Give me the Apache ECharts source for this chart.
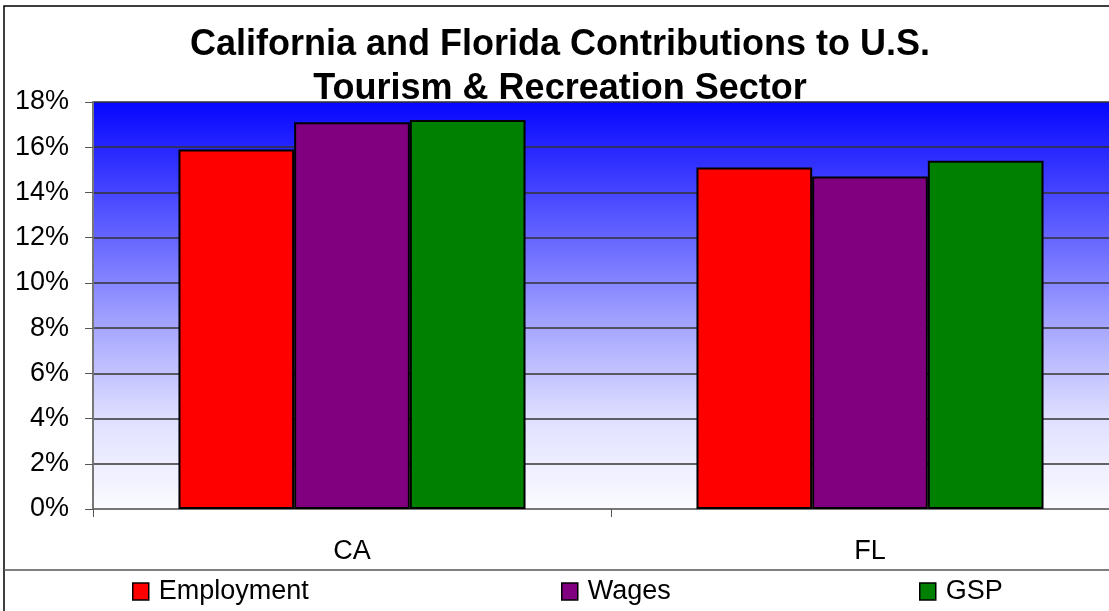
<!DOCTYPE html>
<html>
<head>
<meta charset="utf-8">
<script src="https://cdn.jsdelivr.net/npm/echarts@6/dist/echarts.min.js"></script>
<style>
  html, body { margin: 0; padding: 0; background: #fff; overflow: hidden; }
  #main { width: 1129px; height: 611px; }
</style>
</head>
<body>
<div id="main"></div>
<script>
const states = ['CA', 'FL'];
const employment = [15.9, 15.1];
const wages = [17.1, 14.7];
const gsp = [17.2, 15.4];

const font = 'Liberation Sans, Arial, sans-serif';

const bar = (name, color, data) => ({
  name: name, type: 'bar', data: data,
  barGap: 0, barCategoryGap: '33%',
  itemStyle: { color: color, borderColor: '#000', borderWidth: 2 }
});

const legend = (name, x) => ({
  data: [name], left: x, top: 578, padding: 0,
  itemWidth: 16, itemHeight: 17, itemGap: 4,
  icon: 'rect',
  itemStyle: { borderColor: '#000', borderWidth: 1.5 },
  textStyle: { fontFamily: font, fontSize: 27, color: '#000', padding: [0, 0, 0, 5] }
});

const option = {
  animation: false,
  title: {
    text: 'California and Florida Contributions to U.S.\nTourism & Recreation Sector',
    left: 560, textAlign: 'center', top: 23, padding: 0,
    textStyle: { fontFamily: font, fontSize: 36, fontWeight: 'bold', color: '#000', lineHeight: 44 }
  },
  legend: [legend('Employment', 132), legend('Wages', 561), legend('GSP', 919)],
  graphic: [
    { type: 'rect', shape: { x: 4, y: 6, width: 1200, height: 700 }, style: { fill: null, stroke: '#000', lineWidth: 1.5 }, z: 0 },
    { type: 'line', shape: { x1: 4, y1: 570, x2: 1129, y2: 570 }, style: { stroke: '#555', lineWidth: 1.5 } }
  ],
  grid: {
    left: 93, top: 102, right: 0, bottom: 102,
    show: true, borderWidth: 0,
    backgroundColor: new echarts.graphic.LinearGradient(0, 0, 0, 1, [
      { offset: 0, color: '#0606ff' },
      { offset: 0.33, color: '#6464ff' },
      { offset: 0.56, color: '#a8a8ff' },
      { offset: 0.78, color: '#e0e0ff' },
      { offset: 1, color: '#fbfbff' }
    ])
  },
  xAxis: {
    type: 'category', data: states,
    axisLine: { lineStyle: { color: '#777', width: 2 } },
    axisTick: { show: true, length: 8, lineStyle: { color: '#555' } },
    axisLabel: { fontFamily: font, fontSize: 27, color: '#000', margin: 29 }
  },
  yAxis: {
    type: 'value', min: 0, max: 18, interval: 2,
    axisLine: { show: true, lineStyle: { color: '#777', width: 2 } },
    axisTick: { show: true, length: 8, lineStyle: { color: '#555' } },
    axisLabel: { fontFamily: font, fontSize: 27, color: '#000', margin: 24, formatter: '{value}%' },
    splitLine: { lineStyle: { color: '#333', width: 1.5 } }
  },
  series: [
    bar('Employment', '#ff0000', employment),
    bar('Wages', '#800080', wages),
    bar('GSP', '#008000', gsp)
  ]
};

echarts.init(document.getElementById('main')).setOption(option);
</script>
</body>
</html>
